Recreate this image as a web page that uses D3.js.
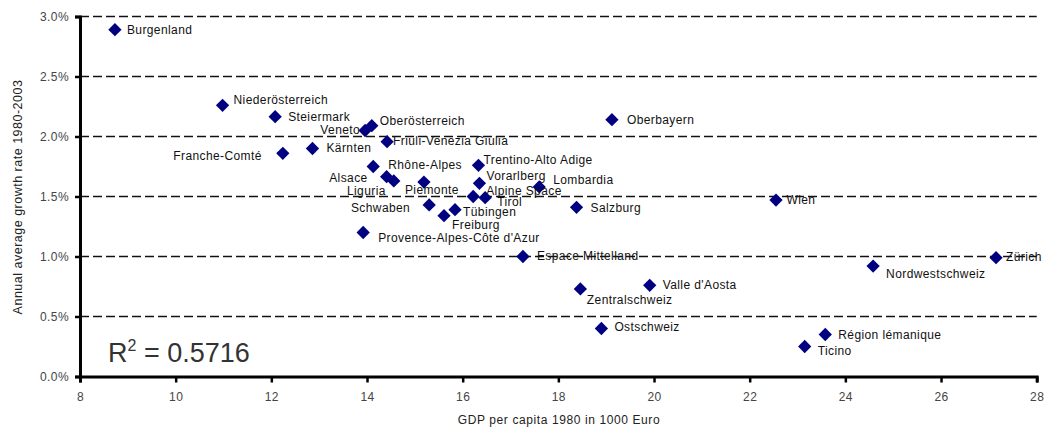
<!DOCTYPE html>
<html>
<head>
<meta charset="utf-8">
<script src="https://cdn.jsdelivr.net/npm/d3@7"></script>
<style>
  html, body { margin: 0; padding: 0; background: #fff; }
  svg { display: block; font-family: "Liberation Sans", Arial, sans-serif; }
</style>
</head>
<body>
<svg id="chart" width="1045" height="430"></svg>
<script>
// ---- data ----
const regions = ["Burgenland","Niederösterreich","Steiermark","Franche-Comté","Kärnten","Veneto","Oberösterreich",
  "Friuli-Venezia Giulia","Rhône-Alpes","Alsace","Liguria","Piemonte","Schwaben","Freiburg","Tübingen",
  "Provence-Alpes-Côte d'Azur","Trentino-Alto Adige","Vorarlberg","Alpine Space","Tirol","Lombardia","Salzburg",
  "Espace Mittelland","Oberbayern","Wien","Zürich","Nordwestschweiz","Valle d'Aosta","Zentralschweiz",
  "Ostschweiz","Région lémanique","Ticino"];
const gdp1980 = [8.73,10.98,12.08,12.24,12.86,13.96,14.10,
  14.42,14.13,14.41,14.56,15.19,15.30,15.61,15.84,
  13.92,16.33,16.35,16.22,16.47,17.60,18.38,
  17.26,19.12,22.55,27.15,24.58,19.91,18.46,
  18.90,23.58,23.15];
const growth = [0.0289,0.0226,0.02165,0.0186,0.0190,0.0205,0.0209,
  0.01957,0.0175,0.01665,0.0163,0.0162,0.0143,0.0134,0.0139,
  0.0120,0.0176,0.0161,0.0150,0.0149,0.0158,0.0141,
  0.0100,0.0214,0.0147,0.0099,0.0092,0.0076,0.0073,
  0.0040,0.0035,0.0025];
const xTicks = [8,10,12,14,16,18,20,22,24,26,28];
const yTicks = [0,0.005,0.01,0.015,0.02,0.025,0.03];
const xTitle = "GDP per capita 1980 in 1000 Euro";
const yTitle = "Annual average growth rate 1980-2003";
const r2Value = "0.5716";

// ---- label placement (layout only) ----
const labelPlace = {
  "Burgenland":[12,0,"start"], "Niederösterreich":[11,-6,"start"], "Steiermark":[13,0,"start"],
  "Franche-Comté":[-21,2,"end"], "Kärnten":[14,-1,"start"], "Veneto":[-5,-1,"end"],
  "Oberösterreich":[8,-5,"start"], "Friuli-Venezia Giulia":[6,-1,"start"], "Rhône-Alpes":[15,-1.5,"start"],
  "Alsace":[-19,1,"end"], "Liguria":[-8,9.5,"end"], "Piemonte":[-19,8,"start"], "Schwaben":[-19,3,"end"],
  "Freiburg":[8,9.5,"start"], "Tübingen":[8,2.5,"start"], "Provence-Alpes-Côte d'Azur":[15,5.6,"start"],
  "Trentino-Alto Adige":[5,-6,"start"], "Vorarlberg":[7,-8,"start"], "Alpine Space":[13,-5.5,"start"],
  "Tirol":[12,4.5,"start"], "Lombardia":[14,-7,"start"], "Salzburg":[14,0,"start"],
  "Espace Mittelland":[14,-1,"start"], "Oberbayern":[15,0,"start"], "Wien":[10.5,0,"start"],
  "Zürich":[10,-1,"start"], "Nordwestschweiz":[13,7.6,"start"], "Valle d'Aosta":[13,-1,"start"],
  "Zentralschweiz":[6.5,11,"start"], "Ostschweiz":[13,-2,"start"], "Région lémanique":[13,0,"start"],
  "Ticino":[13,4,"start"]
};

const svg = d3.select("#chart");
const x = d3.scaleLinear().domain([8,28]).range([80,1036.7]);
const y = d3.scaleLinear().domain([0,0.03]).range([376.5,16.5]);

// gridlines
svg.append("g").selectAll("line").data(yTicks.filter(d => d > 0)).join("line")
  .attr("x1", x(8)).attr("x2", x(28))
  .attr("y1", d => y(d)).attr("y2", d => y(d))
  .attr("stroke", "#111").attr("stroke-width", 1.6).attr("stroke-dasharray", "9,4");

// axes
const xAxis = svg.append("g").attr("transform", `translate(0,${y(0)})`)
  .call(d3.axisBottom(x).tickValues(xTicks).tickFormat(d3.format("d")).tickSize(6).tickPadding(10));
const yAxis = svg.append("g").attr("transform", `translate(${x(8)},0)`)
  .call(d3.axisLeft(y).tickValues(yTicks).tickFormat(d3.format(".1%")).tickSize(5).tickPadding(6));
[xAxis, yAxis].forEach(a => {
  a.select(".domain").attr("stroke", "#000").attr("stroke-width", 3);
  a.selectAll(".tick line").attr("stroke", "#000").attr("stroke-width", 2.5);
  a.selectAll(".tick text").attr("fill", "#444").attr("font-size", 12).attr("letter-spacing", 0.4)
    .attr("font-family", "'Liberation Sans', Arial, sans-serif");
});

// axis titles
svg.append("text").attr("x", 559).attr("y", 424).attr("text-anchor", "middle")
  .attr("font-size", 12).attr("letter-spacing", 0.6).attr("fill", "#222").text(xTitle);
svg.append("text").attr("transform", `translate(22,${197}) rotate(-90)`).attr("text-anchor", "middle")
  .attr("font-size", 12.5).attr("letter-spacing", 0.5).attr("fill", "#222").text(yTitle);

// points
const pts = regions.map((n, i) => ({name: n, gx: gdp1980[i], gy: growth[i]}));
const diamond = d3.symbol().type(d3.symbolSquare).size(88);
svg.append("g").selectAll("path").data(pts).join("path")
  .attr("d", diamond)
  .attr("transform", d => `translate(${x(d.gx)},${y(d.gy)}) rotate(45)`)
  .attr("fill", "#000080");

// labels
svg.append("g").selectAll("text").data(pts).join("text")
  .attr("x", d => x(d.gx) + labelPlace[d.name][0])
  .attr("y", d => y(d.gy) + labelPlace[d.name][1])
  .attr("dy", "0.35em")
  .attr("text-anchor", d => labelPlace[d.name][2])
  .attr("font-size", 12).attr("letter-spacing", 0.4).attr("fill", "#111")
  .text(d => d.name);

// R squared
const r2 = svg.append("text").attr("x", 108).attr("y", 362).attr("font-size", 27).attr("fill", "#333");
r2.append("tspan").text("R");
r2.append("tspan").attr("font-size", 16).attr("dy", -11).text("2");
r2.append("tspan").attr("dy", 11).text(" = " + r2Value);
</script>
</body>
</html>
